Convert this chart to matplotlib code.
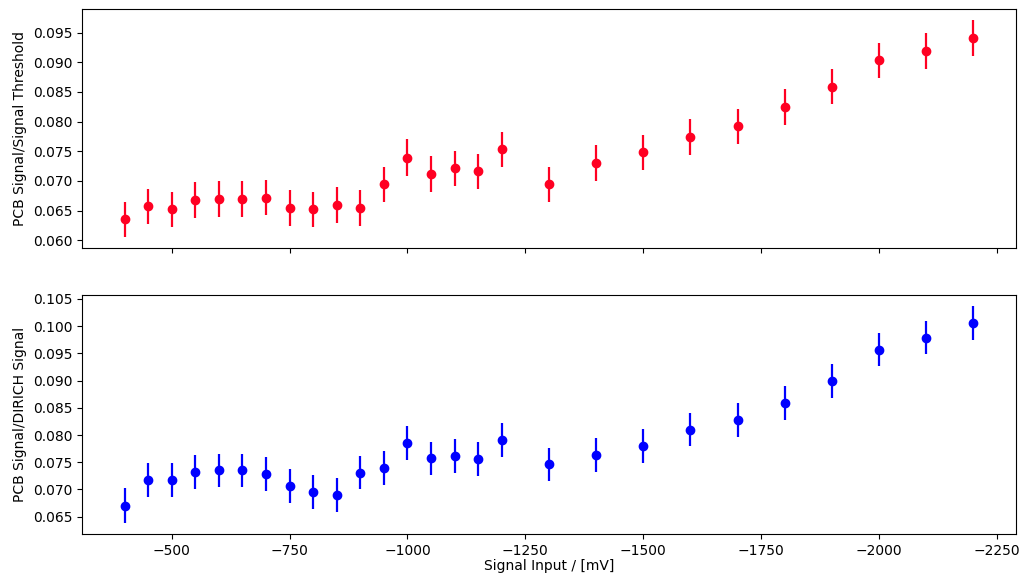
import matplotlib
matplotlib.use("Agg")
import matplotlib.pyplot as plt
from matplotlib.ticker import MultipleLocator, FormatStrFormatter

# Eingangssignal in mV
signal_input = [-400, -450, -500, -550, -600, -650, -700, -750, -800, -850,
                -900, -950, -1000, -1050, -1100, -1150, -1200,
                -1300, -1400, -1500, -1600, -1700, -1800, -1900, -2000, -2100, -2200]

# Verhaeltnis PCB Signal / Signal Threshold
ratio_threshold = [0.0635, 0.0657, 0.0652, 0.0668, 0.0669, 0.0669, 0.0672, 0.0654, 0.0652, 0.0659,
                   0.0654, 0.0694, 0.0739, 0.0712, 0.0721, 0.0716, 0.0753,
                   0.0694, 0.0730, 0.0748, 0.0774, 0.0792, 0.0825, 0.0859, 0.0903, 0.0919, 0.0941]
err_threshold = [0.0030, 0.0030, 0.0030, 0.0030, 0.0030, 0.0030, 0.0030, 0.0030, 0.0030, 0.0030,
                 0.0030, 0.0030, 0.0031, 0.0030, 0.0030, 0.0030, 0.0030,
                 0.0030, 0.0030, 0.0030, 0.0030, 0.0030, 0.0030, 0.0030, 0.0030, 0.0030, 0.0030]

# Verhaeltnis PCB Signal / DIRICH Signal
ratio_dirich = [0.0670, 0.0717, 0.0717, 0.0732, 0.0735, 0.0735, 0.0729, 0.0706, 0.0695, 0.0690,
                0.0731, 0.0739, 0.0785, 0.0757, 0.0761, 0.0756, 0.0791,
                0.0746, 0.0764, 0.0780, 0.0810, 0.0828, 0.0859, 0.0899, 0.0957, 0.0979, 0.1006]
err_dirich = [0.0032, 0.0031, 0.0031, 0.0031, 0.0031, 0.0031, 0.0031, 0.0031, 0.0031, 0.0031,
              0.0031, 0.0031, 0.0031, 0.0031, 0.0031, 0.0031, 0.0031,
              0.0031, 0.0031, 0.0031, 0.0031, 0.0031, 0.0031, 0.0031, 0.0031, 0.0031, 0.0031]

fig, (ax1, ax2) = plt.subplots(2, 1, sharex=True, figsize=(10.26, 5.78), dpi=100)
fig.subplots_adjust(left=0.080, right=0.990, top=0.984, bottom=0.076, hspace=0.197)

ax1.errorbar(signal_input, ratio_threshold, yerr=err_threshold, fmt='o', color='#ff0022',
             markersize=6, elinewidth=1.6)
ax1.set_ylabel('PCB Signal/Signal Threshold')

ax2.errorbar(signal_input, ratio_dirich, yerr=err_dirich, fmt='o', color='#0000ff',
             markersize=6, elinewidth=1.6)
ax2.set_ylabel('PCB Signal/DIRICH Signal')
ax2.set_xlabel('Signal Input / [mV]', labelpad=1)

# y-Ticks alle 0.005 mit drei Nachkommastellen
for ax in (ax1, ax2):
    ax.yaxis.set_major_locator(MultipleLocator(0.005))
    ax.yaxis.set_major_formatter(FormatStrFormatter('%.3f'))

# x-Achse umdrehen (negativere Spannung nach rechts)
ax2.invert_xaxis()

plt.savefig("out.png", dpi=100)
